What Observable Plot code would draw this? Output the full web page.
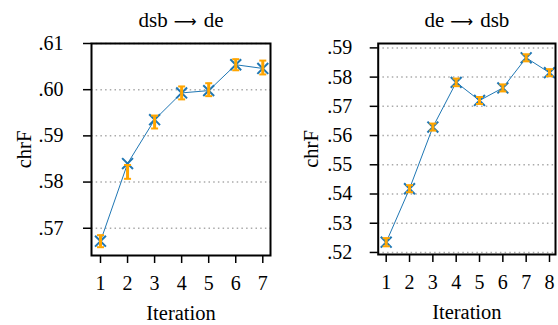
<!DOCTYPE html>
<html>
<head>
<meta charset="utf-8">
<script src="https://cdn.jsdelivr.net/npm/d3@7"></script>
<script src="https://cdn.jsdelivr.net/npm/@observablehq/plot@0.6"></script>
<style>
  html, body { margin: 0; padding: 0; background: white; }
  #wrap { position: relative; width: 558px; height: 325px; background: white; }
  #wrap svg { position: absolute; top: 0; }
</style>
</head>
<body>
<div id="wrap"></div>
<script>
// dsb -> de
const iterL = [1, 2, 3, 4, 5, 6, 7];
const bestL = [0.5672, 0.5840, 0.5935, 0.5993, 0.5998, 0.6054, 0.6046];
const meanL = [0.5672, 0.5822, 0.5930, 0.5993, 0.6000, 0.6054, 0.6048];
const sdL   = [0.0013, 0.0015, 0.0014, 0.0014, 0.0014, 0.0012, 0.0015];
const yTicksL = [0.57, 0.58, 0.59, 0.60, 0.61];

// de -> dsb
const iterR = [1, 2, 3, 4, 5, 6, 7, 8];
const bestR = [0.5235, 0.5418, 0.5629, 0.5782, 0.5720, 0.5763, 0.5866, 0.5815];
const meanR = [0.5235, 0.5418, 0.5629, 0.5782, 0.5720, 0.5763, 0.5866, 0.5815];
const sdR   = [0.0014, 0.0012, 0.0012, 0.0013, 0.0012, 0.0012, 0.0012, 0.0012];
const yTicksR = [0.52, 0.53, 0.54, 0.55, 0.56, 0.57, 0.58, 0.59];

const titleParts = [["dsb", "de"], ["de", "dsb"]];
const xLabel = "Iteration";
const yLabel = "chrF";

const BLUE = "#1f77b4";
const ORANGE = "#ffa500";
const FONT = "Liberation Serif";

const cap = {
  draw(ctx, size) {
    const r = Math.sqrt(size / Math.PI);
    ctx.moveTo(-r, 0);
    ctx.lineTo(r, 0);
  }
};

const fmt = d => d3.format(".2f")(d).replace(/^0/, "");

function panel({iters, best, mean, sd, xdom, ydom, yticks, ml, mr, mb, pad, parts}) {
  const data = iters.map((x, i) => ({x, best: best[i], lo: mean[i] - sd[i], hi: mean[i] + sd[i]}));
  const title = `${parts[0]} \u2192 ${parts[1]}`;
  const svg = Plot.plot({
    width: 279,
    height: 325,
    marginLeft: ml,
    marginRight: mr,
    marginTop: 43,
    marginBottom: mb,
    style: {fontFamily: FONT, fontSize: "20px", color: "black", background: "white", overflow: "visible"},
    x: {domain: xdom},
    y: {domain: ydom},
    marks: [
      Plot.gridY(yticks, {stroke: "#aaaaaa", strokeOpacity: 1, strokeWidth: 1.5, strokeDasharray: "1.5,3.2"}),
      Plot.line(data, {x: "x", y: "best", stroke: BLUE, strokeWidth: 1}),
      Plot.dot(data, {x: "x", y: "best", symbol: "times", r: 5, stroke: BLUE, strokeWidth: 2}),
      Plot.ruleX(data, {x: "x", y1: "lo", y2: "hi", stroke: ORANGE, strokeWidth: 3}),
      Plot.dot(data, {x: "x", y: "lo", symbol: cap, r: 3.5, stroke: ORANGE, strokeWidth: 2}),
      Plot.dot(data, {x: "x", y: "hi", symbol: cap, r: 3.5, stroke: ORANGE, strokeWidth: 2}),
      Plot.frame({stroke: "black", strokeWidth: 2}),
      Plot.axisX({ticks: iters, tickFormat: d => String(d), tickSize: 8, tickPadding: 12, strokeWidth: 1.5, label: null, fontSize: 20, fontFamily: FONT}),
      Plot.axisY({ticks: yticks, tickFormat: fmt, tickSize: 8, tickPadding: pad, strokeWidth: 1.5, label: null, fontSize: 20, fontFamily: FONT}),
      Plot.text([xLabel], {frameAnchor: "bottom", lineAnchor: "middle", textAnchor: "middle", dy: 58.3, fontSize: 20.5, fontFamily: FONT}),
      Plot.text([yLabel], {frameAnchor: "left", lineAnchor: "middle", textAnchor: "middle", rotate: -90, dx: -67, fontSize: 20.5, fontFamily: FONT}),
      Plot.text([title], {frameAnchor: "top", lineAnchor: "middle", textAnchor: "middle", dy: -23.3, fontSize: 21, fontFamily: FONT})
    ]
  });
  // typeset the arrow as a long thin arrow, like \rightarrow
  svg.querySelectorAll("text").forEach(t => {
    if (t.textContent === title) {
      t.textContent = "";
      t.style.whiteSpace = "pre";
      const ns = "http://www.w3.org/2000/svg";
      const a = document.createElementNS(ns, "tspan");
      a.textContent = parts[0];
      const b = document.createElementNS(ns, "tspan");
      b.textContent = "\u27F6";
      b.setAttribute("font-family", "DejaVu Sans");
      b.setAttribute("font-size", "16");
      b.setAttribute("dx", "6");
      const c = document.createElementNS(ns, "tspan");
      c.textContent = parts[1];
      c.setAttribute("dx", "7");
      t.append(a, b, c);
    }
  });
  return svg;
}

const wrap = document.getElementById("wrap");
const left = panel({
  iters: iterL, best: bestL, mean: meanL, sd: sdL,
  xdom: [0.667, 7.285], ydom: [0.5641, 0.61], yticks: yTicksL,
  ml: 91, mr: 9, mb: 70, pad: 20, parts: titleParts[0]
});
left.style.left = "0px";
wrap.appendChild(left);

const right = panel({
  iters: iterR, best: bestR, mean: meanR, sd: sdR,
  xdom: [0.657, 8.257], ydom: [0.5193, 0.5915], yticks: yTicksR,
  ml: 98.7, mr: 3, mb: 71, pad: 18, parts: titleParts[1]
});
right.style.left = "279px";
wrap.appendChild(right);
</script>
</body>
</html>
